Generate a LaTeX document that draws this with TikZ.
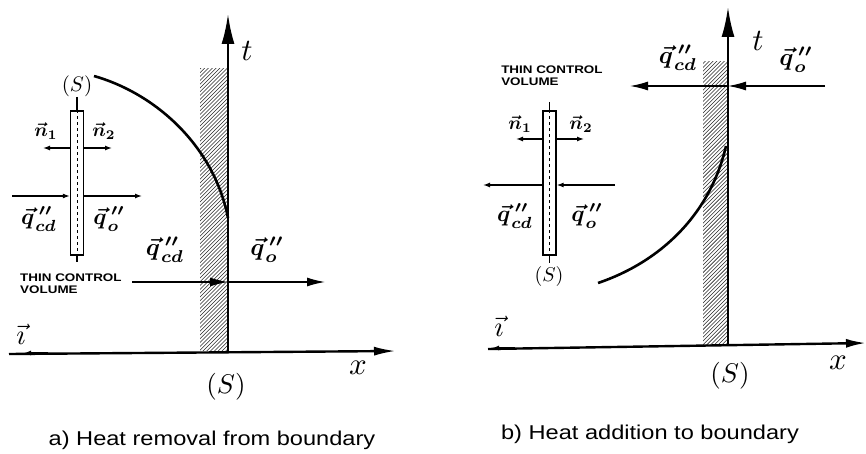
\documentclass[tikz,border=0pt]{standalone}
\usepackage{fontspec}
\setsansfont{Liberation Sans}
\usetikzlibrary{arrows.meta}
\newcommand{\qcdlab}{$\vec{q}\,''_{\!cd}$}
\newcommand{\qolab}{$\vec{q}\,''_{\!o}$}
\begin{document}
\begin{tikzpicture}[x=1pt,y=-1pt,
  axisline/.style={line width=2.4pt},
  thinline/.style={line width=1.3pt},
  curveline/.style={line width=2.6pt},
  mathlab/.style={font=\boldmath, scale=2.45, inner sep=0pt},
  mathlabs/.style={font=\boldmath, scale=2.3, inner sep=0pt},
  smalllab/.style={font=\boldmath, scale=1.9, inner sep=0pt},
  axislab/.style={scale=3.1, inner sep=0pt},
  slab/.style={scale=2.7, inner sep=0pt},
  slabs/.style={scale=2.1, inner sep=0pt},
  cvtext/.style={font=\sffamily\bfseries\fontsize{11}{12}\selectfont, align=left, inner sep=0pt, xscale=1.22},
  caption/.style={font=\sffamily\fontsize{20}{22}\selectfont, inner sep=0pt, xscale=1.18},
  bigtip/.style={-{Latex[length=18pt,width=9pt]}},
  smalltip/.style={-{Latex[length=7pt,width=5pt]}},
  hatchline/.style={line width=0.55pt, black!85}
]
\useasboundingbox (0,0) rectangle (866,454);

%%%%%%%%%%%%%%%% panel a %%%%%%%%%%%%%%%%
\begin{scope}
  \clip (200,69) rectangle (228,350);
  \foreach \k in {60,63.8,...,420} \draw[hatchline] (190,\k) -- (245,\k-55);
\end{scope}
\coordinate (aO) at (228,351);
\coordinate (aT) at (228,14);
\coordinate (aXs) at (9,354);
\coordinate (aXe) at (396,351);
\draw[axisline,-{Latex[length=30pt,width=13pt]}] (aO) -- (aT);
\draw[axisline,-{Latex[length=22pt,width=9pt]}] (aXs) -- (aXe);
\coordinate (aIs) at (48,353);
\coordinate (aIe) at (24,353);
\draw[thinline,smalltip] (aIs) -- (aIe);
\node[axislab] (at) at (247,51) {$t$};
\node[axislab] (ax) at (358,368) {$x$};
\node[slab] (aS) at (226,387) {$(S)$};
\node[axislab,scale=0.92] (ai) at (21,334) {$\vec{\imath}$};
\coordinate (aC1) at (94,76);
\coordinate (aC2) at (228,218);
\draw[curveline] (aC1) .. controls (160,95) and (215,150) .. (aC2);
\coordinate (aF1) at (132,282);
\coordinate (aF2) at (228,282);
\coordinate (aF3) at (325,282);
\draw[thinline,bigtip] (aF1) -- (aF2);
\draw[thinline,bigtip] (aF2) -- (aF3);
\node[mathlab] (aqcd) at (165,250) {\qcdlab};
\node[mathlab] (aqo) at (267,250) {\qolab};
\node[cvtext,anchor=north west] (acv) at (20,274) {THIN CONTROL\\VOLUME};
\node[draw,thinline,minimum width=13pt,minimum height=144pt,inner sep=0pt] (arect) at (77,183) {};
\draw[line width=0.5pt,dashed] (arect.north) -- (arect.south);
\coordinate (aSt) at (77,97);
\coordinate (aSb) at (77,262);
\draw[thinline] (aSt) -- (arect.north);
\draw[thinline] (arect.south) -- (aSb);
\node[slabs] (aSs) at (77,86) {$(S)$};
\coordinate (an1) at (43,148);
\coordinate (an2) at (112,148);
\draw[thinline,smalltip] (arect.west |- an1) -- (an1);
\draw[thinline,smalltip] (arect.east |- an2) -- (an2);
\node[smalllab] (an1l) at (46,131) {$\vec{n}_1$};
\node[smalllab] (an2l) at (104,131) {$\vec{n}_2$};
\coordinate (aq1) at (12,196);
\coordinate (aq2) at (142,196);
\draw[thinline,smalltip] (aq1) -- (arect.west |- aq1);
\draw[thinline,smalltip] (arect.east |- aq2) -- (aq2);
\node[mathlabs] (aqcds) at (39,219) {\qcdlab};
\node[mathlabs] (aqos) at (109,219) {\qolab};
\node[caption] (acap) at (212,440) {a) Heat removal from boundary};

%%%%%%%%%%%%%%%% panel b %%%%%%%%%%%%%%%%
\begin{scope}
  \clip (703,62) rectangle (728,345);
  \foreach \k in {50,53.8,...,420} \draw[hatchline] (690,\k) -- (745,\k-55);
\end{scope}
\coordinate (bO) at (728,346);
\coordinate (bT) at (728,7);
\coordinate (bXs) at (488,349);
\coordinate (bXe) at (866,343);
\draw[axisline,-{Latex[length=30pt,width=13pt]}] (bO) -- (bT);
\draw[axisline,-{Latex[length=20pt,width=9pt]}] (bXs) -- (bXe);
\coordinate (bIs) at (515,348);
\coordinate (bIe) at (492,348);
\draw[thinline,smalltip] (bIs) -- (bIe);
\node[axislab] (bt) at (758,41) {$t$};
\node[axislab] (bx) at (838,363) {$x$};
\node[slab] (bS) at (730,376) {$(S)$};
\node[axislab,scale=0.92] (bi) at (499,326) {$\vec{\imath}$};
\coordinate (bC1) at (598,283);
\coordinate (bC2) at (726,146);
\draw[curveline] (bC1) .. controls (660,262) and (710,215) .. (bC2);
\coordinate (bF1) at (825,86);
\coordinate (bF2) at (728,86);
\coordinate (bF3) at (630,86);
\draw[thinline,bigtip] (bF1) -- (bF2);
\draw[thinline,bigtip] (bF2) -- (bF3);
\node[mathlab] (bqcd) at (678,58) {\qcdlab};
\node[mathlab] (bqo) at (796,60) {\qolab};
\node[cvtext,anchor=north west] (bcv) at (501,66) {THIN CONTROL\\VOLUME};
\node[draw,thinline,minimum width=13pt,minimum height=144pt,inner sep=0pt] (brect) at (549.5,183) {};
\draw[line width=0.5pt,dashed] (brect.north) -- (brect.south);
\coordinate (bSt) at (549.5,102);
\coordinate (bSb) at (549.5,263);
\draw[thinline] (bSt) -- (brect.north);
\draw[thinline] (brect.south) -- (bSb);
\node[slabs,scale=0.95] (bSs) at (549,277) {$(S)$};
\coordinate (bn1) at (516,139);
\coordinate (bn2) at (584,139);
\draw[thinline,smalltip] (brect.west |- bn1) -- (bn1);
\draw[thinline,smalltip] (brect.east |- bn2) -- (bn2);
\node[smalllab] (bn1l) at (520,124) {$\vec{n}_1$};
\node[smalllab] (bn2l) at (581,124) {$\vec{n}_2$};
\coordinate (bq1) at (483,185);
\coordinate (bq2) at (615,185);
\draw[thinline,smalltip] (brect.west |- bq1) -- (bq1);
\draw[thinline,smalltip] (bq2) -- (brect.east |- bq2);
\node[mathlabs] (bqcds) at (515,216) {\qcdlab};
\node[mathlabs] (bqos) at (587,216) {\qolab};
\node[caption] (bcap) at (650,434) {b) Heat addition to boundary};
\end{tikzpicture}
\end{document}
